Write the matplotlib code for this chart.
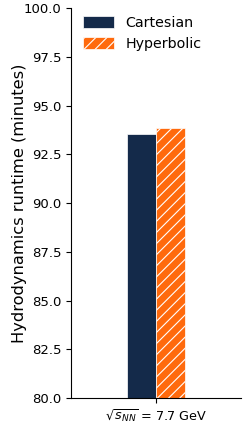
import matplotlib.pyplot as plt
import numpy as np

plt.rcParams['hatch.color'] = 'white'
plt.rcParams['hatch.linewidth'] = 0.8

labels = [r'$\sqrt{s_{NN}}$ = 7.7 GeV']
cartesian = [93.54]
hyperbolic = [93.87]

fig = plt.figure(figsize=(2.49, 4.24), dpi=100)
ax = fig.add_axes([0.285, 0.061, 0.683, 0.92])

x = np.arange(len(labels))
w = 0.34
ax.bar(x - w / 2, cartesian, w, color='#142a4a', edgecolor='white', linewidth=0.5, label='Cartesian')
ax.bar(x + w / 2, hyperbolic, w, color='#ff6a0d', edgecolor='white', linewidth=0.5, hatch='///', label='Hyperbolic')

ax.set_ylim(80, 100)
ax.set_xlim(-1, 1)
ax.set_yticks(np.arange(80, 100.1, 2.5))
ax.set_xticks(x)
ax.set_xticklabels(labels, fontsize=9.2)
ax.tick_params(axis='y', labelsize=9.5)
ax.set_ylabel('Hydrodynamics runtime (minutes)', fontsize=11.7)
ax.yaxis.set_label_coords(-0.26, 0.5)
ax.spines['top'].set_visible(False)
ax.spines['right'].set_visible(False)
ax.legend(loc='upper left', bbox_to_anchor=(0.037, 0.994), frameon=False, fontsize=10.3,
          borderaxespad=0, handlelength=2.14, handleheight=0.85, handletextpad=0.84,
          labelspacing=0.48)

fig.savefig('out.png', dpi=100)
